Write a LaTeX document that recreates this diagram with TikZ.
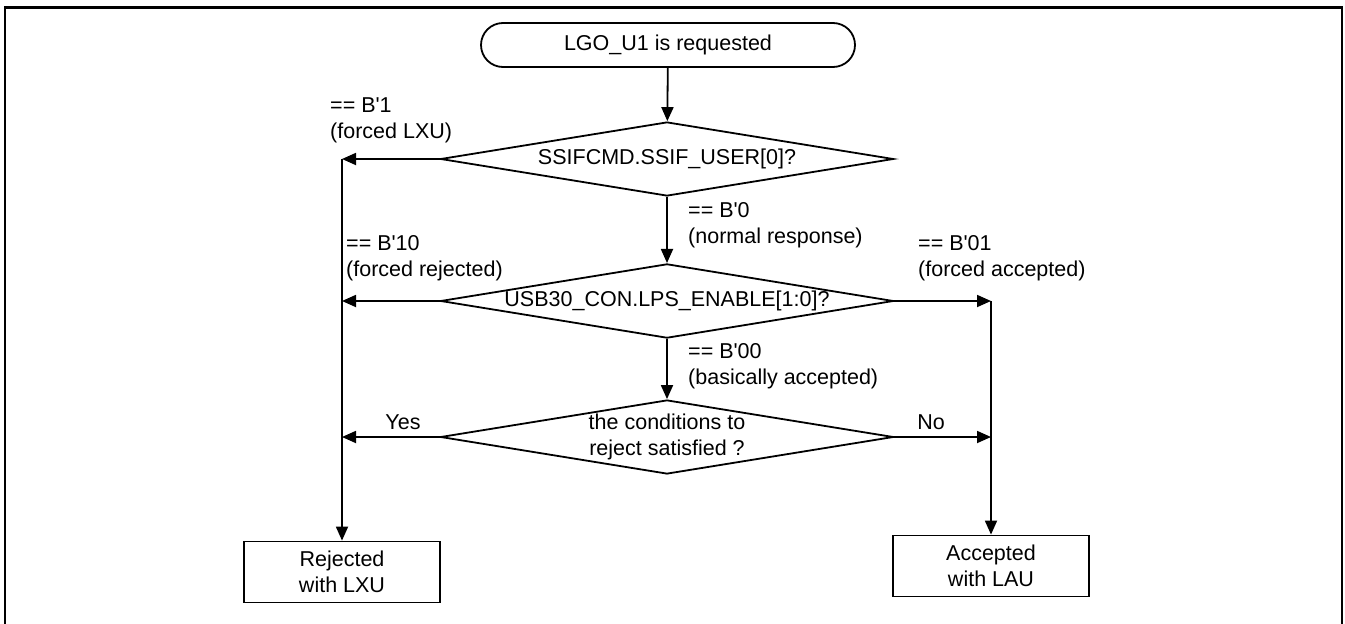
\documentclass[tikz,border=0pt]{standalone}
\usepackage{fontspec}
\setmainfont{Liberation Sans}[Ligatures=TeXOff]
\usetikzlibrary{shapes.geometric,arrows.meta}
\begin{document}
\begin{tikzpicture}[x=1pt,y=-1pt,
  every node/.style={font=\fontsize{21.5}{26}\selectfont, inner sep=0pt},
  ln/.style={line width=1.8pt},
  arr/.style={ln, -{Triangle[length=14pt,width=12pt]}},
  term/.style={draw, ln, rounded corners=22pt, minimum width=374pt, minimum height=44pt},
  dec/.style={draw, ln, diamond, aspect=6, minimum width=453pt, minimum height=74pt, align=center},
  res/.style={draw, ln, minimum width=196pt, minimum height=61pt, align=center},
  lab/.style={anchor=west, align=left}]
\useasboundingbox (0,0) rectangle (1345,624);
\draw[line width=2.4pt] (5,640) -- (5,7.5) -- (1342,7.5) -- (1342,640);

\node[term] (start) at (668,45) {LGO\_U1 is requested};
\node[dec] (d1) at (667,159) {SSIFCMD.SSIF\_USER[0]?};
\node[dec] (d2) at (667,301) {USB30\_CON.LPS\_ENABLE[1:0]?};
\node[dec] (d3) at (667,437) {the conditions to\\reject satisfied ?};
\node[res] (rej) at (342,572) {Rejected\\with LXU};
\node[res] (acc) at (991,566) {Accepted\\with LAU};

\coordinate (c1) at (342,159);
\coordinate (c2) at (342,301);
\coordinate (c3) at (342,437);
\coordinate (c4) at (991,301);
\coordinate (c5) at (991,437);

\draw[arr] (start) -- (d1);
\draw[arr] (d1) -- (d2);
\draw[arr] (d2) -- (d3);
\draw[arr] (d1.west) -- (c1);
\draw[arr] (d2.west) -- (c2);
\draw[arr] (d3.west) -- (c3);
\draw[arr] (d2.east) -- (c4);
\draw[arr] (d3.east) -- (c5);
\draw[arr] (c1) -- (rej);
\draw[arr] (c4) -- (acc);

\node[lab] (l1) at (330,120) {== B'1\\(forced LXU)};
\node[lab] (l2) at (688,225) {== B'0\\(normal response)};
\node[lab] (l3) at (346,258) {== B'10\\(forced rejected)};
\node[lab] (l4) at (918,258) {== B'01\\(forced accepted)};
\node[lab] (l5) at (688,366) {== B'00\\(basically accepted)};
\node (yes) at (403,422) {Yes};
\node (no) at (931,422) {No};
\end{tikzpicture}
\end{document}
